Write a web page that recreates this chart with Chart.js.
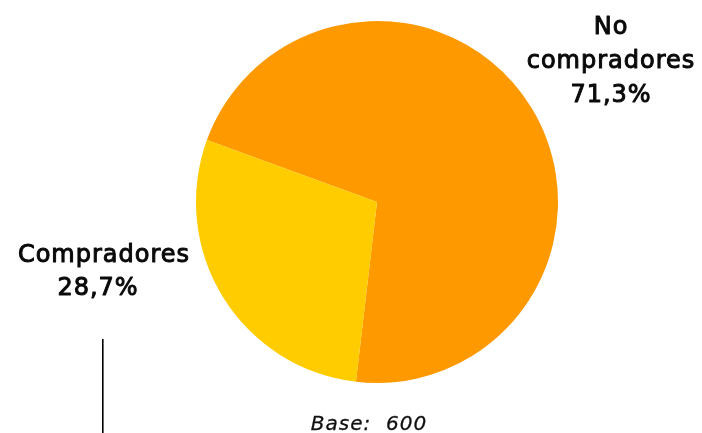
<!DOCTYPE html>
<html>
<head>
<meta charset="utf-8">
<script src="https://cdn.jsdelivr.net/npm/chart.js@4"></script>
<style>
  html, body { margin: 0; padding: 0; background: #ffffff; }
  #wrap { width: 702px; height: 433px; position: relative; }
</style>
</head>
<body>
<div id="wrap"><canvas id="c"></canvas></div>
<script>
const categories = ["No compradores", "Compradores"];
const values = [71.3, 28.7];
const valueLabels = ["71,3%", "28,7%"];
const labelLines = [["No", "compradores", "71,3%"], ["Compradores", "28,7%"]];
const colors = ["#FF9900", "#FFCC00"];
const baseNote = "Base:  600";

const labelPlugin = {
  id: 'labels',
  afterDraw(chart) {
    const ctx = chart.ctx;
    ctx.save();
    ctx.fillStyle = '#0a0a0a';
    ctx.strokeStyle = '#0a0a0a';
    ctx.lineWidth = 1.0;
    ctx.lineJoin = 'round';
    ctx.textAlign = 'center';
    ctx.textBaseline = 'alphabetic';
    ctx.font = '24px "DejaVu Sans"';
    try { ctx.letterSpacing = '1px'; } catch (e) {}
    const draw = (t, x, y) => { ctx.fillText(t, x, y); ctx.strokeText(t, x, y); };
    const right = [{x: 611, y: 34}, {x: 611, y: 68}, {x: 611, y: 102}];
    labelLines[0].forEach((t, i) => draw(t, right[i].x, right[i].y));
    const left = [{x: 104, y: 262}, {x: 98, y: 295}];
    labelLines[1].forEach((t, i) => draw(t, left[i].x, left[i].y));
    // base note
    ctx.font = 'oblique 20px "DejaVu Sans"';
    try { ctx.letterSpacing = '1px'; } catch (e) {}
    ctx.fillStyle = '#111111';
    ctx.strokeStyle = '#111111';
    ctx.lineWidth = 0.3;
    ctx.fillText(baseNote, 369, 430);
    ctx.strokeText(baseNote, 369, 430);
    // vertical line
    ctx.strokeStyle = '#000000';
    ctx.lineWidth = 1.6;
    ctx.beginPath();
    ctx.moveTo(102.8, 339);
    ctx.lineTo(102.8, 433);
    ctx.stroke();
    ctx.restore();
  }
};

new Chart(document.getElementById('c'), {
  type: 'pie',
  data: {
    labels: categories,
    datasets: [{
      data: values,
      backgroundColor: colors,
      borderWidth: 0
    }]
  },
  options: {
    responsive: true,
    maintainAspectRatio: false,
    animation: false,
    rotation: 290,
    layout: { padding: { left: 196, right: 144, top: 21, bottom: 50 } },
    plugins: {
      legend: { display: false },
      tooltip: { enabled: false }
    }
  },
  plugins: [labelPlugin]
});
</script>
</body>
</html>
